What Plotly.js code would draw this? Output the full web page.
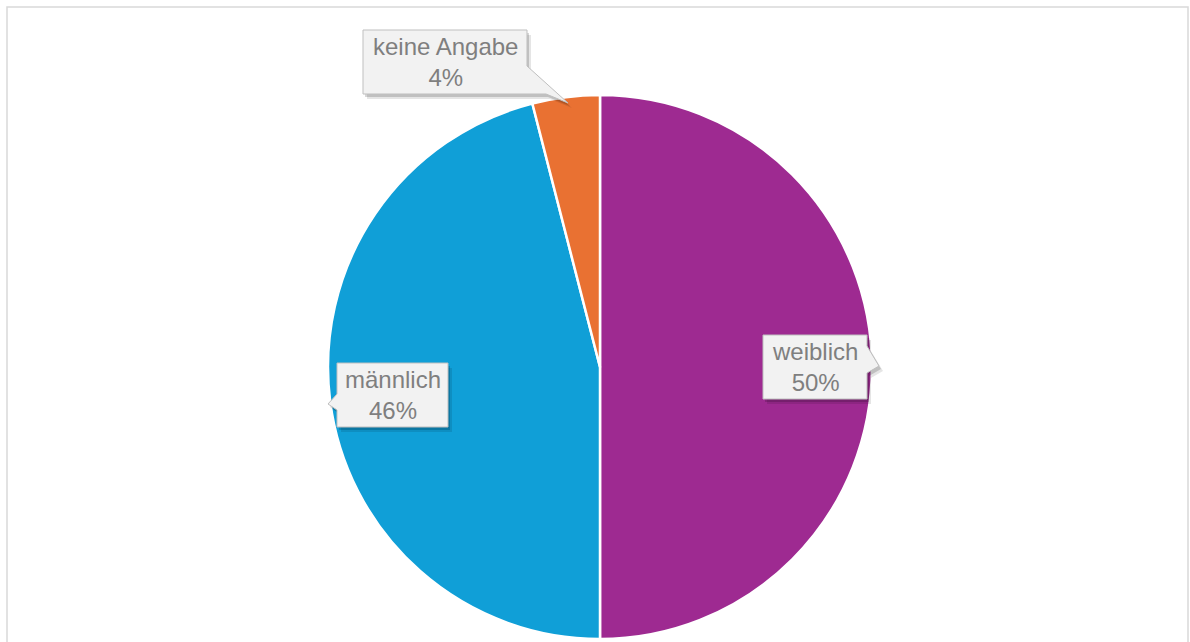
<!DOCTYPE html>
<html><head><meta charset="utf-8">
<script src="https://cdn.plot.ly/plotly-3.0.1.min.js"></script>
<style>html,body{margin:0;padding:0;background:#fff}#chart{width:1190px;height:642px}</style>
</head><body><div id="chart"></div>
<script>
const categories = ["weiblich", "männlich", "keine Angabe"];
const values = [50, 46, 4];
const colors = ["#9E2A91", "#109FD7", "#E97132"];

const W = 1190, H = 642;
const px = (x) => x / W, py = (y) => 1 - y / H;

// callout outlines (box + pointer) in pixels, and text centres
const callouts = [
  [[763, 335], [867, 335], [867, 346], [879, 366], [867, 373], [867, 399], [763, 399]],
  [[337, 363], [448, 363], [448, 427], [337, 427], [337, 410], [328, 404], [337, 394]],
  [[363, 30], [527, 30], [527, 66], [568, 103], [546, 94], [363, 94]]
];
const textCentres = [[815, 367], [393, 395], [445, 62]];

const total = values.reduce((a, b) => a + b, 0);
const annotations = [];
const shapes = [];

shapes.push({type: 'rect', xref: 'paper', yref: 'paper', x0: px(7), x1: px(1188), y0: py(7), y1: py(660),
  line: {color: '#d9d9d9', width: 1.5}, fillcolor: 'rgba(0,0,0,0)', layer: 'below'});

function polyPath(pts, dx, dy) {
  return 'M ' + pts.map(p => px(p[0] + dx) + ' ' + py(p[1] + dy)).join(' L ') + ' Z';
}

callouts.forEach((pts) => {
  shapes.push({type: 'path', xref: 'paper', yref: 'paper', path: polyPath(pts, 4, 5),
    fillcolor: 'rgba(0,0,0,0.10)', line: {width: 0}});
  shapes.push({type: 'path', xref: 'paper', yref: 'paper', path: polyPath(pts, 2, 3),
    fillcolor: 'rgba(0,0,0,0.16)', line: {width: 0}});
  shapes.push({type: 'path', xref: 'paper', yref: 'paper', path: polyPath(pts, 0, 0),
    fillcolor: '#f2f2f2', line: {color: '#bfbfbf', width: 1}});
});

categories.forEach((c, i) => {
  const pct = Math.round(values[i] / total * 100) + '%';
  annotations.push({xref: 'paper', yref: 'paper', x: px(textCentres[i][0]), y: py(textCentres[i][1]),
    xanchor: 'center', yanchor: 'middle', text: c + '<br>' + pct, showarrow: false,
    font: {family: 'Liberation Sans, Arial, sans-serif', size: 24, color: '#7f7f7f'}});
});

const data = [{
  type: 'pie',
  labels: categories,
  values: values,
  sort: false,
  direction: 'clockwise',
  rotation: 0,
  marker: {colors: colors, line: {color: '#ffffff', width: 2.5}},
  textinfo: 'none',
  hoverinfo: 'label+percent',
  showlegend: false,
  domain: {x: [px(328), px(872)], y: [3 / H, 547 / H]}
}];

const layout = {
  width: W, height: H,
  margin: {l: 0, r: 0, t: 0, b: 0},
  paper_bgcolor: '#ffffff',
  showlegend: false,
  shapes: shapes,
  annotations: annotations
};

Plotly.newPlot('chart', data, layout, {displayModeBar: false, staticPlot: true});
</script>
</body></html>
